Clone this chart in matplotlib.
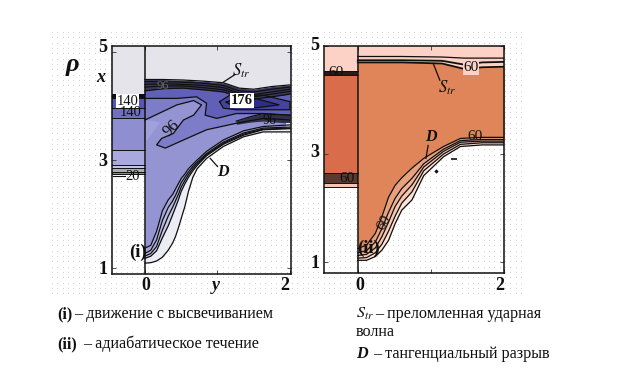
import numpy as np
import matplotlib
matplotlib.use("Agg")
import matplotlib.pyplot as plt

plt.rcParams['font.family'] = ['Liberation Serif', 'DejaVu Serif']

# ---- panel (i) data
i_strip_levels = [5.11, 4.22, 4.14, 3.96, 3.77, 3.18, 2.91, 2.85, 2.78, 2.74]
i_strip_colors = ['#e4e4ea', '#0c0c18', '#5656b2', '#7070c2', '#8e8ed0', '#a9a9dd', '#c4c4e0', '#aaaaba', '#888898']
i_x_d = [0, .08, .16, .24, .32, .38, .42, .46, .50, .55, .60, .66, .72, .85, 1.08, 1.36, 1.63, 2.0]
i_d0 = [1.09, 1.10, 1.13, 1.20, 1.33, 1.46, 1.58, 1.74, 1.92, 2.14, 2.42, 2.68, 2.84, 3.03, 3.25, 3.43, 3.52, 3.52]
i_d1 = [1.18, 1.22, 1.32, 1.56, 1.78, 1.98, 2.12, 2.26, 2.42, 2.56, 2.68, 2.80, 2.90, 3.08, 3.29, 3.46, 3.56, 3.58]
i_d2 = [1.22, 1.27, 1.40, 1.70, 1.96, 2.12, 2.24, 2.36, 2.50, 2.62, 2.73, 2.84, 2.93, 3.10, 3.31, 3.48, 3.57, 3.59]
i_d3 = [1.27, 1.33, 1.52, 1.88, 2.12, 2.24, 2.34, 2.46, 2.58, 2.68, 2.78, 2.88, 2.96, 3.12, 3.33, 3.50, 3.59, 3.61]
i_d4 = [1.37, 1.42, 1.68, 2.06, 2.26, 2.36, 2.46, 2.56, 2.66, 2.74, 2.84, 2.92, 3.00, 3.16, 3.37, 3.54, 3.62, 3.65]
i_x_s = [0, .25, .53, .80, 1.08, 1.30, 1.50, 1.75, 2.0]
i_s_top = [4.49, 4.49, 4.48, 4.46, 4.43, 4.33, 4.31, 4.36, 4.39]
i_s_m1 = [4.45, 4.45, 4.44, 4.42, 4.38, 4.28, 4.26, 4.31, 4.35]
i_s_m2 = [4.40, 4.41, 4.40, 4.38, 4.34, 4.24, 4.21, 4.26, 4.31]
i_s_m3 = [4.35, 4.37, 4.37, 4.34, 4.30, 4.21, 4.17, 4.22, 4.27]
i_s_bot = [4.28, 4.32, 4.33, 4.30, 4.26, 4.17, 4.13, 4.17, 4.22]
i_c96_x = [0, .44, .67, .78, .67, .53, .39, .23, .16, .28, .53, .85, 1.26, 1.63, 2.0]
i_c96_r = [3.74, 4.02, 4.10, 4.02, 3.83, 3.74, 3.49, 3.40, 3.28, 3.22, 3.37, 3.56, 3.68, 3.77, 3.74]
i_c120_x = [0, .44, .71, .85, .83, .99, 1.26, 1.63, 2.0]
i_c120_r = [4.14, 4.14, 4.17, 4.05, 3.83, 3.77, 3.86, 3.86, 3.83]
i_core_x = [1.03, 1.17, 1.63, 2.0, 2.0, 1.68, 1.26, 1.08, 1.03]
i_core_r = [4.08, 4.20, 4.20, 4.08, 3.93, 3.93, 3.93, 3.96, 4.08]
i_core2_x = [1.12, 1.25, 1.55, 1.85, 1.55, 1.25, 1.12]
i_core2_r = [4.07, 4.14, 4.13, 4.02, 3.97, 3.97, 4.07]
i_patch_x = [0, .21, .05, 0]
i_patch_r = [3.74, 3.70, 3.40, 3.33]
i_low_x = [1.26, 1.45, 1.63, 1.82, 2.0]
i_low_a = [3.66, 3.70, 3.72, 3.70, 3.68]
i_low_b = [3.72, 3.80, 3.86, 3.84, 3.83]

# ---- panel (ii) data
ii_strip_levels = [5.01, 4.54, 4.47, 2.64, 2.46, 2.39]
ii_strip_colors = ['#fcd2c6', '#2a1a14', '#d96c4a', '#5a3a30', '#f6c4b0']
ii_x_d = [0, .12, .24, .33, .42, .51, .60, .74, .90, 1.17, 1.40, 1.70, 2.0]
ii_d0 = [1.03, 1.03, 1.10, 1.22, 1.40, 1.71, 1.96, 2.15, 2.60, 2.95, 3.14, 3.17, 3.17]
ii_d1 = [1.07, 1.08, 1.17, 1.33, 1.57, 1.85, 2.09, 2.30, 2.69, 3.00, 3.18, 3.21, 3.21]
ii_d2 = [1.12, 1.14, 1.26, 1.47, 1.74, 2.03, 2.22, 2.43, 2.76, 3.05, 3.22, 3.24, 3.24]
ii_d3 = [1.17, 1.21, 1.37, 1.62, 1.92, 2.18, 2.36, 2.55, 2.82, 3.09, 3.25, 3.27, 3.27]
ii_d4 = [1.25, 1.31, 1.53, 1.84, 2.20, 2.42, 2.56, 2.74, 2.92, 3.14, 3.29, 3.31, 3.31]
ii_x_s = [0, .60, 1.15, 1.45, 1.70, 2.0]
ii_s0 = [4.81, 4.81, 4.80, 4.78, 4.78, 4.78]
ii_s1 = [4.74, 4.74, 4.73, 4.66, 4.70, 4.71]
ii_s2 = [4.70, 4.70, 4.68, 4.58, 4.61, 4.62]
ii_mark_x = [1.07]
ii_mark_r = [2.68]
ii_dash_x = [1.31]
ii_dash_r = [2.90]

y_ticks = [1, 3, 5]
x_ticks = [0, 1, 2]

W, H = 626, 369
fig = plt.figure(figsize=(W / 100, H / 100), dpi=100, facecolor='white')

def rect(l, t, r, b):
    return [l / W, 1 - b / H, (r - l) / W, (b - t) / H]

# faint dotted backdrop
bg = fig.add_axes([0, 0, 1, 1], zorder=0)
bg.set_xlim(0, W); bg.set_ylim(H, 0); bg.axis('off')
gx, gy = np.meshgrid(np.arange(52, 522, 5.33), np.arange(32, 298, 5.33))
bg.scatter(gx.ravel(), gy.ravel(), s=0.35, c='#c4c4c4', linewidths=0)

lw = 0.9
BLK = '#101010'

def strip(ax, levels, colors):
    for a, b, c in zip(levels[:-1], levels[1:], colors):
        ax.fill_between([ax.get_xlim()[0], 0], b, a, color=c, lw=0)
    for v in levels[1:]:
        ax.plot([ax.get_xlim()[0], 0], [v, v], color=BLK, lw=0.7)

def style(ax):
    ax.set_xticks(x_ticks); ax.set_yticks(y_ticks)
    ax.set_xticklabels([]); ax.set_yticklabels([])
    ax.tick_params(direction='in', length=3, width=0.6, top=True, right=True, color='#333333')
    for s in ax.spines.values():
        s.set_linewidth(1.1); s.set_color(BLK)
    ax.axvline(0, color=BLK, lw=1.1, zorder=6)

tickfont = dict(fontsize=13, fontweight='bold', color=BLK, va='center')

# ---------- panel (i)
a = fig.add_axes(rect(112, 46, 291, 274), zorder=1)
a.set_xlim(-0.455, 2.014); a.set_ylim(0.89, 5.11)
a.set_facecolor('none')
strip(a, i_strip_levels, i_strip_colors)
a.fill_between(i_x_d, i_d0, i_d1, color='#ececf4', lw=0)
a.fill_between(i_x_d, i_d1, i_d2, color='#c8c8e8', lw=0)
a.fill_between(i_x_d, i_d2, i_d3, color='#b6b6e2', lw=0)
a.fill_between(i_x_d, i_d3, i_d4, color='#a6a6dc', lw=0)
a.fill_between(i_x_d, i_d4, 4.4, color='#9494d2', lw=0)
a.fill(i_patch_x, i_patch_r, color='#a0a0da', lw=0)
a.fill(i_c96_x + [2.0, 0], i_c96_r + [4.4, 4.4], color='#7c7cc8', lw=0)
a.fill(i_c120_x + [2.0, 0], i_c120_r + [4.4, 4.4], color='#6060b8', lw=0)
a.fill(i_core_x, i_core_r, color='#44449e', lw=0)
a.fill(i_core2_x, i_core2_r, color='#2e2e86', lw=0)
a.fill_between(i_low_x, i_low_a, i_low_b, color='#30304a', lw=0)
a.fill_between(i_x_s, i_s_bot, i_s_top, color='#3a3a5a', lw=0)
a.fill_between(i_x_s, i_s_top, 5.11, color='#e4e4ea', lw=0)
a.fill_between([1.95, 2.014], 3.52, 3.68, color='#e8e8f0', lw=0)
for c in (i_d0, i_d1, i_d2, i_d3, i_d4):
    a.plot(i_x_d, c, color=BLK, lw=lw)
for xs, rs in ((i_c96_x, i_c96_r), (i_c120_x, i_c120_r), (i_core_x, i_core_r), (i_core2_x, i_core2_r)):
    a.plot(xs, rs, color=BLK, lw=lw)
for c in (i_s_top, i_s_m1, i_s_m2, i_s_m3, i_s_bot):
    a.plot(i_x_s, c, color=BLK, lw=lw)
a.plot(i_low_x, i_low_b, color=BLK, lw=lw)
style(a)

box = dict(facecolor='white', edgecolor='none', pad=0.5)
numf = dict(fontsize=10.5, color=BLK, ha='center', va='center', zorder=8)
a.text(-0.24, 4.09, '140', bbox=box, **numf)
a.text(-0.20, 3.87, '140', **numf)
a.text(-0.165, 2.69, '20', **numf)
a.plot([-.44, -.28], [2.71, 2.71], color=BLK, lw=0.8)
a.text(0.37, 3.59, '96', rotation=45, fontsize=12, color=BLK, ha='center', va='center', zorder=8)
a.text(0.25, 4.37, '96', fontsize=9, color='#666666', ha='center', va='center', zorder=8)
a.text(1.34, 4.10, '176', bbox=box, fontsize=10.5, fontweight='bold', color=BLK, ha='center', va='center', zorder=8)
a.text(1.72, 3.73, '96', fontsize=10, color=BLK, ha='center', va='center', zorder=8)
a.text(1.07, 2.78, 'D', fontsize=11.5, style='italic', fontweight='bold', color=BLK, ha='center', va='center', zorder=8)
a.plot([.90, 1.0], [3.03, 2.88], color=BLK, lw=0.9, zorder=8)
a.text(1.33, 4.65, r'$\mathit{S}_{\mathit{tr}}$', fontsize=12, color=BLK, ha='center', va='center', zorder=8,
       math_fontfamily='stix')
a.plot([1.08, 1.24], [4.44, 4.58], color=BLK, lw=0.9, zorder=8)
a.text(-0.10, 1.30, '(i)', fontsize=13.5, fontweight='bold', color=BLK, ha='center', va='center', zorder=8)

# ---------- panel (ii)
b = fig.add_axes(rect(324.3, 45.7, 504.3, 272.7), zorder=1)
b.set_xlim(-0.457, 2.0); b.set_ylim(0.80, 5.01)
b.set_facecolor('none')
strip(b, ii_strip_levels, ii_strip_colors)
ORG = '#df8559'
b.fill_between(ii_x_s, ii_s0, 5.01, color='#fcd2c6', lw=0)
b.fill_between(ii_x_d, ii_d4, 4.75, color=ORG, lw=0)
b.fill_between(ii_x_s, ii_s2, 4.81, color='#fcd2c6', lw=0)
b.fill_between(ii_x_d, ii_d0, ii_d1, color='#fde3d8', lw=0)
b.fill_between(ii_x_d, ii_d1, ii_d2, color='#f8c8b0', lw=0)
b.fill_between(ii_x_d, ii_d2, ii_d3, color='#f2b496', lw=0)
b.fill_between(ii_x_d, ii_d3, ii_d4, color='#e9a07c', lw=0)
for c in (ii_d0, ii_d1, ii_d2, ii_d3, ii_d4):
    b.plot(ii_x_d, c, color=BLK, lw=lw)
for c, w in ((ii_s0, 0.9), (ii_s1, 1.3), (ii_s2, 1.3)):
    b.plot(ii_x_s, c, color=BLK, lw=w)
b.scatter(ii_mark_x, ii_mark_r, s=5, marker='D', c=BLK, linewidths=0, zorder=7)
b.scatter(ii_dash_x, ii_dash_r, s=22, marker='_', c=BLK, linewidths=1.2, zorder=7)
style(b)
pad = dict(fontsize=11, color=BLK, ha='center', va='center', zorder=8)
b.text(-0.30, 4.51, '60', **pad)
b.text(-0.15, 2.55, '60', **pad)
b.text(1.55, 4.60, '60', bbox=dict(facecolor='#fcd2c6', edgecolor='none', pad=0.3), **pad)
b.text(1.60, 3.32, '60', **pad)
b.text(0.36, 1.72, '60', rotation=60, **pad)
b.text(1.22, 4.22, r'$\mathit{S}_{\mathit{tr}}$', fontsize=12, color=BLK, ha='center', va='center', zorder=8,
       math_fontfamily='stix')
b.plot([1.03, 1.12], [4.68, 4.37], color=BLK, lw=0.9, zorder=8)
b.text(1.0, 3.31, 'D', fontsize=11.5, style='italic', fontweight='bold', color=BLK, ha='center', va='center', zorder=8)
b.plot([.93, .96], [2.92, 3.16], color=BLK, lw=0.9, zorder=8)
b.text(0.15, 1.25, '(ii)', fontsize=13.5, fontweight='bold', color=BLK, ha='center', va='center', zorder=8)

# ---------- figure text
def px(x, y, s, **k):
    fig.text(x / W, 1 - y / H, s, va='center', color=BLK, zorder=5, **k)

for lab, py in zip(y_ticks, (270, 161, 47)):
    fig.text(103 / W, 1 - py / H, str(lab), ha='center', zorder=5, **tickfont)
for lab, py in zip(y_ticks, (263, 153, 46)):
    fig.text(315 / W, 1 - py / H, str(lab), ha='center', zorder=5, **tickfont)
fig.text(146 / W, 1 - 285 / H, '0', ha='center', zorder=5, **tickfont)
fig.text(285 / W, 1 - 285 / H, '2', ha='center', zorder=5, **tickfont)
fig.text(216 / W, 1 - 285 / H, 'y', ha='center', zorder=5, style='italic', **tickfont)
fig.text(360 / W, 1 - 285 / H, '0', ha='center', zorder=5, **tickfont)
fig.text(500 / W, 1 - 285 / H, '2', ha='center', zorder=5, **tickfont)

px(66, 64, '\u03c1', fontsize=19, style='italic', fontweight='bold')
px(96, 77, 'x', fontsize=13, style='italic', fontweight='bold')

capf = dict(fontsize=11.6)
px(57, 314, '(i)', fontweight='bold', **capf)
px(74, 314, '– движение с высвечиванием', **capf)
px(57, 344, '(ii)', fontweight='bold', **capf)
px(83, 344, '– адиабатическое течение', **capf)
px(356, 314, r'$\mathit{S}_{\mathit{tr}}$', math_fontfamily='stix', **capf)
px(375, 314, '– преломленная ударная', **capf)
px(356, 332, 'волна', **capf)
px(356, 354, 'D', fontweight='bold', style='italic', **capf)
px(373, 354, '– тангенциальный разрыв', **capf)

fig.savefig('out.png', dpi=100)
